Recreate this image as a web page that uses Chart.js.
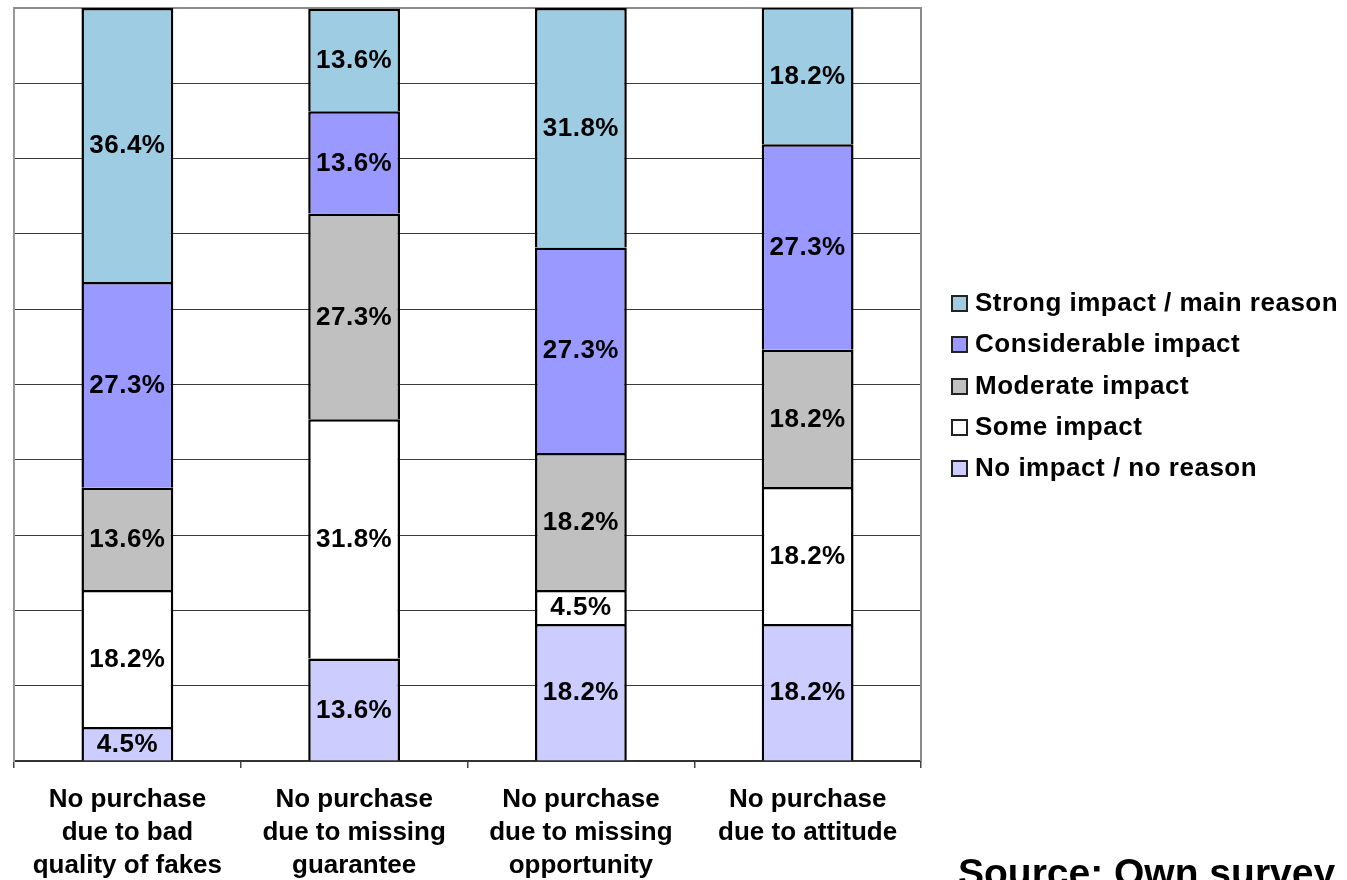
<!DOCTYPE html>
<html>
<head>
<meta charset="utf-8">
<script src="https://cdn.jsdelivr.net/npm/chart.js@4.4.0/dist/chart.umd.min.js"></script>
<style>
  html, body { margin: 0; padding: 0; background: #fff; overflow: hidden; }
  #wrap { position: relative; width: 1347px; height: 880px; }
  #chart { position: absolute; left: 0; top: 0; }
  #legend { position: absolute; left: 951px; top: 282px; font: bold 26px Arial, "Liberation Sans", sans-serif; letter-spacing: 0.5px; color: #000; }
  #legend .row { height: 41.3px; line-height: 41px; white-space: nowrap; }
  #legend .box { display: inline-block; width: 17px; height: 17px; border: 2px solid #222; margin-right: 7px; vertical-align: -1px; box-sizing: border-box; }
  #source { position: absolute; left: 958px; top: 853px; font: bold 39px Arial, "Liberation Sans", sans-serif; line-height: 39px; white-space: nowrap; color: #000; }
</style>
</head>
<body>
<div id="wrap">
  <canvas id="chart" width="1347" height="880"></canvas>
  <div id="legend"></div>
  <div id="source">Source: Own survey</div>
</div>
<script>
// Categories (x axis labels, one line per array item)
const categories = [
    ['No purchase', 'due to bad', 'quality of fakes'],
    ['No purchase', 'due to missing', 'guarantee'],
    ['No purchase', 'due to missing', 'opportunity'],
    ['No purchase', 'due to attitude']
];

// Series values in percent, bottom to top of the stack
const noImpact = [4.5, 13.6, 18.2, 18.2];
const someImpact = [18.2, 31.8, 4.5, 18.2];
const moderateImpact = [13.6, 27.3, 18.2, 18.2];
const considerableImpact = [27.3, 13.6, 27.3, 27.3];
const strongImpact = [36.4, 13.6, 31.8, 18.2];

const seriesNames = ['No impact / no reason', 'Some impact', 'Moderate impact', 'Considerable impact', 'Strong impact / main reason'];
const seriesColors = ['#CCCCFF', '#FFFFFF', '#C0C0C0', '#9999FF', '#9ECDE3'];
const seriesValues = [noImpact, someImpact, moderateImpact, considerableImpact, strongImpact];

const FONT = 'Arial, "Liberation Sans", sans-serif';

// Draws the percentage inside every bar segment
const segmentLabels = {
    id: 'segmentLabels',
    afterDatasetsDraw(chart) {
        const ctx = chart.ctx;
        ctx.save();
        ctx.font = 'bold 26px ' + FONT;
        ctx.letterSpacing = '0.5px';
        ctx.fillStyle = '#000';
        ctx.textAlign = 'center';
        ctx.textBaseline = 'middle';
        chart.data.datasets.forEach((ds, i) => {
            chart.getDatasetMeta(i).data.forEach((bar, j) => {
                const mid = (bar.y + bar.base) / 2;
                ctx.fillText(ds.data[j].toFixed(1) + '%', bar.x, mid + 1);
            });
        });
        ctx.restore();
    }
};

// Gray frame on top and right of the plot area
const plotFrame = {
    id: 'plotFrame',
    beforeDatasetsDraw(chart) {
        const { ctx, chartArea: a } = chart;
        ctx.save();
        ctx.strokeStyle = '#8a8a8a';
        ctx.lineWidth = 2;
        ctx.beginPath();
        ctx.moveTo(a.left, a.top);
        ctx.lineTo(a.right, a.top);
        ctx.lineTo(a.right, a.bottom);
        ctx.stroke();
        ctx.restore();
    }
};

const ctx = document.getElementById('chart').getContext('2d');
const chart = new Chart(ctx, {
    type: 'bar',
    data: {
        labels: categories,
        datasets: seriesValues.map((vals, i) => ({
            label: seriesNames[i],
            data: vals,
            backgroundColor: seriesColors[i],
            borderColor: '#000',
            borderWidth: 2.5,
            borderSkipped: 'start',
            categoryPercentage: 1,
            barPercentage: 0.405
        }))
    },
    options: {
        responsive: false,
        animation: false,
        layout: { padding: { left: 14, top: 8, right: 426, bottom: 0 } },
        plugins: {
            legend: { display: false },
            tooltip: { enabled: false }
        },
        scales: {
            x: {
                stacked: true,
                grid: { drawOnChartArea: false, drawTicks: true, tickLength: 7, color: '#444', lineWidth: 1.5 },
                border: { color: '#333', width: 2 },
                ticks: {
                    color: '#000',
                    padding: 15,
                    maxRotation: 0,
                    autoSkip: false,
                    font: { family: FONT, size: 26, weight: 'bold', lineHeight: 1.27 }
                },
                afterFit(scale) { scale.height = 119; }
            },
            y: {
                stacked: true,
                min: 0,
                max: 100,
                grid: { drawTicks: false, color: '#3a3a3a', lineWidth: 1 },
                border: { color: '#999', width: 2 },
                ticks: { display: false, stepSize: 10 }
            }
        }
    },
    plugins: [plotFrame, segmentLabels]
});

// Legend, top entry is the top of the stack
const legend = document.getElementById('legend');
for (let i = seriesNames.length - 1; i >= 0; i--) {
    const row = document.createElement('div');
    row.className = 'row';
    row.innerHTML = '<span class="box" style="background:' + seriesColors[i] + '"></span>' + seriesNames[i];
    legend.appendChild(row);
}
</script>
</body>
</html>
